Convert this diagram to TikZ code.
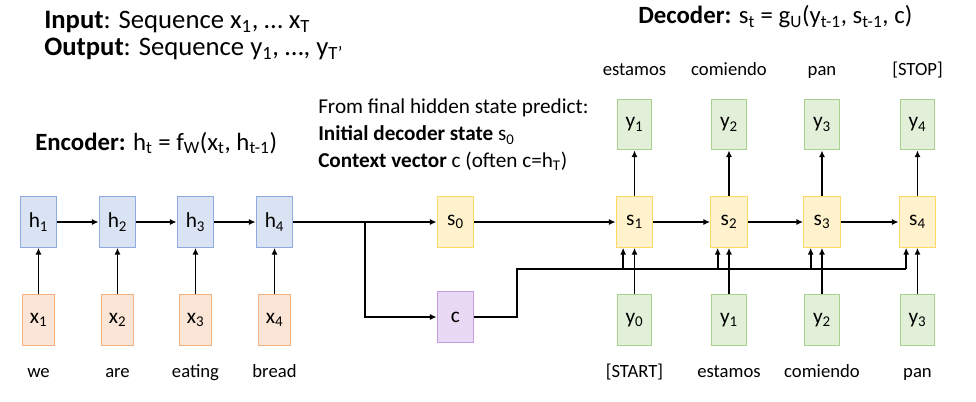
\documentclass[tikz,border=0pt]{standalone}
\usepackage{fontspec}
\setmainfont{Carlito}
\usetikzlibrary{arrows.meta}
\definecolor{hfill}{HTML}{DAE3F3}\definecolor{hdraw}{HTML}{8FAADC}
\definecolor{xfill}{HTML}{FBE5D6}\definecolor{xdraw}{HTML}{F4B183}
\definecolor{sfill}{HTML}{FFF2CC}\definecolor{sdraw}{HTML}{FFD966}
\definecolor{cfill}{HTML}{EAD9F5}\definecolor{cdraw}{HTML}{C79BE0}
\definecolor{yfill}{HTML}{E2F0D9}\definecolor{ydraw}{HTML}{A9D18E}
\newcommand{\sbs}[1]{\textsubscript{#1}}
\tikzset{
  cell/.style={minimum width=27.5pt, minimum height=38pt, inner sep=0pt, line width=0.8pt, font=\fontsize{16}{16}\selectfont},
  hbox/.style={cell, fill=hfill, draw=hdraw},
  xbox/.style={cell, fill=xfill, draw=xdraw, minimum width=24pt},
  sbox/.style={cell, fill=sfill, draw=sdraw},
  cbox/.style={cell, fill=cfill, draw=cdraw},
  ybox/.style={cell, fill=yfill, draw=ydraw, minimum width=26pt},
  word/.style={font=\fontsize{14}{14}\selectfont, inner sep=0pt, anchor=base},
  conn/.style={line width=1.3pt, -{Latex[length=5pt,width=4.5pt]}},
  plain/.style={line width=1.3pt},
  title/.style={font=\fontsize{20}{20}\selectfont, inner sep=0pt, anchor=west},
  eqn/.style={font=\fontsize{18.6}{18.6}\selectfont, inner sep=0pt, anchor=west},
  note/.style={font=\fontsize{15.9}{15.9}\selectfont, inner sep=0pt, anchor=west}
}
\begin{document}
\begin{tikzpicture}[x=0.75pt, y=-0.75pt]
\path[use as bounding box] (0,0) rectangle (976,401);
% titles
\node[title] (tin) at (44,22) {\textbf{Input}: Sequence x\sbs{1}, … x\sbs{T}};
\node[title] (tout) at (44,49) {\textbf{Output}: Sequence y\sbs{1}, …, y\sbs{T'}};
\node[eqn] (tdec) at (638,17) {\textbf{Decoder:} s\sbs{t} = g\sbs{U}(y\sbs{t-1}, s\sbs{t-1}, c)};
\node[eqn] (tenc) at (35,143) {\textbf{Encoder:} h\sbs{t} = f\sbs{W}(x\sbs{t}, h\sbs{t-1})};
\node[note] (n1) at (318,108) {From final hidden state predict:};
\node[note] (n2) at (318,135) {\textbf{Initial decoder state} s\sbs{0}};
\node[note] (n3) at (318,161) {\textbf{Context vector} c (often c=h\sbs{T})};
% encoder
\foreach \i/\x/\w in {1/38.5/we, 2/117.5/are, 3/195.5/eating, 4/274.5/bread}{
  \node[hbox] (h\i) at (\x,222) {h\sbs{\i}};
  \node[xbox] (x\i) at (\x,320) {x\sbs{\i}};
  \node[word] (w\i) at (\x,377) {\w};
  \draw[conn] (x\i) -- (h\i);
}
\foreach \a/\b in {1/2,2/3,3/4}{\draw[conn] (h\a) -- (h\b);}
\node[sbox] (s0) at (455.5,222) {s\sbs{0}};
\node[cbox] (c) at (455.5,317) {c};
\coordinate (br) at (365,222);
\draw[conn] (h4) -- (s0);
\draw[conn] (br) |- (c);
% decoder
\foreach \i/\x/\tw/\bw in {1/634.5/estamos/{[START]}, 2/729/comiendo/estamos, 3/822/pan/comiendo, 4/917.5/{[STOP]}/pan}{
  \pgfmathtruncatemacro{\j}{\i-1}
  \node[sbox] (s\i) at (\x,222) {s\sbs{\i}};
  \node[ybox] (yo\i) at (\x,124.5) {y\sbs{\i}};
  \node[word] (tw\i) at (\x,75) {\tw};
  \node[ybox] (yi\i) at (\x,320) {y\sbs{\j}};
  \node[word] (bw\i) at (\x,377) {\bw};
  \draw[conn] (s\i) -- (yo\i);
  \coordinate (cin\i) at ([xshift=-8.5pt]s\i.south);
  \draw[conn] (cin\i |- 0,269) -- (cin\i);
}
\draw[conn] (s0) -- (s1);
\foreach \a/\b in {1/2,2/3,3/4}{\draw[conn] (s\a) -- (s\b);}
\coordinate (cu) at (517,317);
\coordinate (cr) at (cin4 |- 0,269);
\draw[plain] (c) -- (cu) |- (cr);
\foreach \i in {1,...,4}{\draw[conn] (yi\i) -- (s\i);}
\end{tikzpicture}
\end{document}
